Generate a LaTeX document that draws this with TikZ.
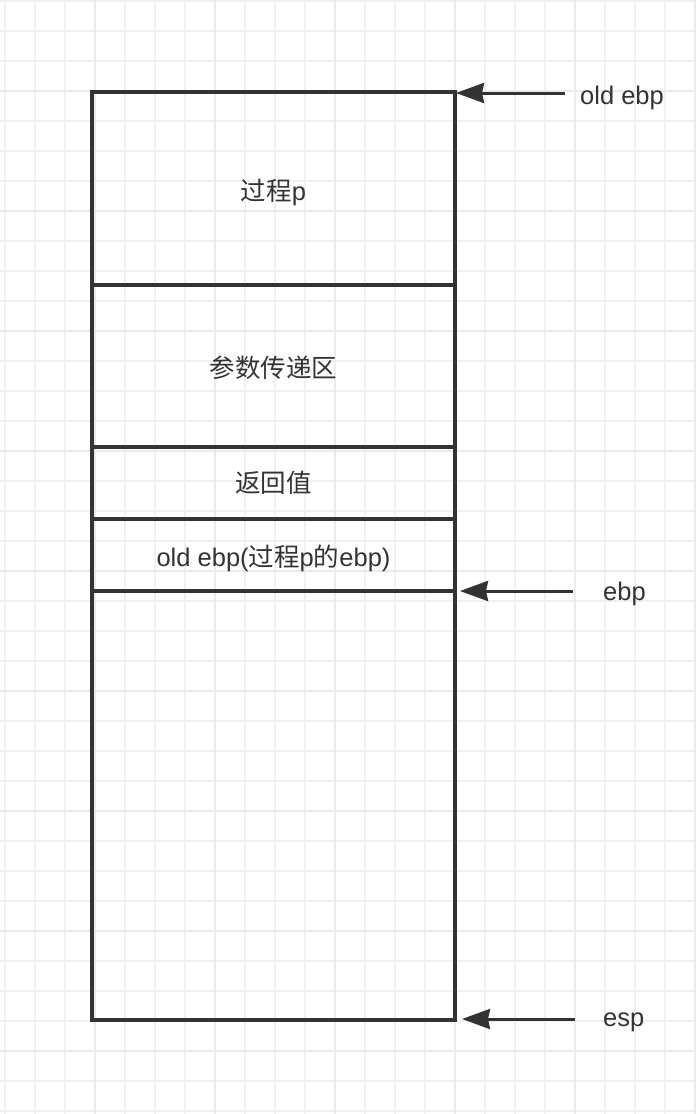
\documentclass[tikz,border=0pt]{standalone}
\usepackage{fontspec}
\setmainfont{Liberation Sans}
\newfontfamily\cjk{Noto Sans CJK SC}
\usetikzlibrary{arrows.meta}
\definecolor{gridminor}{HTML}{F0F0F0}
\definecolor{gridmajor}{HTML}{EBEBEB}
\definecolor{ink}{HTML}{333333}

\begin{document}
\begin{tikzpicture}[x=1pt, y=-1pt]
    \tikzset{MinorGrid/.style={draw=gridminor, line width=1.4pt}}
    \tikzset{MajorGrid/.style={draw=gridmajor, line width=1.8pt}}
    \tikzset{FrameStyle/.style={draw=ink, line width=3.2pt}}
    \tikzset{LabelStyle/.style={text=ink, inner sep=0pt, font=\fontsize{25.5}{30}\selectfont}}
    \tikzset{PointerStyle/.style={draw=ink, line width=3pt, -{Stealth[length=28pt, width=20pt, inset=2pt]}}}

    \useasboundingbox[fill=white] (0,0) rectangle (696,1114);

    % grid paper
    \foreach \k in {0,...,23} \draw[MinorGrid] (5+30*\k,0) -- (5+30*\k,1114);
    \foreach \k in {0,...,37} \draw[MinorGrid] (0,1+30*\k) -- (696,1+30*\k);
    \foreach \k in {3,7,...,23} \draw[MajorGrid] (5+30*\k,0) -- (5+30*\k,1114);
    \foreach \k in {3,7,...,35} \draw[MajorGrid] (0,1+30*\k) -- (696,1+30*\k);

    % stack frame
    \coordinate (TL) at (92,92);
    \coordinate (BR) at (455,1020);
    \coordinate (D1L) at (92,285);  \coordinate (D1R) at (455,285);
    \coordinate (D2L) at (92,447);  \coordinate (D2R) at (455,447);
    \coordinate (D3L) at (92,519);  \coordinate (D3R) at (455,519);
    \coordinate (D4L) at (92,591);  \coordinate (D4R) at (455,591);

    \draw[FrameStyle] (TL) rectangle (BR);
    \draw[FrameStyle] (D1L) -- (D1R);
    \draw[FrameStyle] (D2L) -- (D2R);
    \draw[FrameStyle] (D3L) -- (D3R);
    \draw[FrameStyle] (D4L) -- (D4R);

    \node[LabelStyle, anchor=base] (procp) at (273.5,200) {{\cjk 过程}p};
    \node[LabelStyle, anchor=base] (args) at (273.5,377) {\cjk 参数传递区};
    \node[LabelStyle, anchor=base] (retval) at (273.5,492) {\cjk 返回值};
    \node[LabelStyle, anchor=base] (saved) at (273.5,566) {old ebp({\cjk 过程}p{\cjk 的}ebp)};

    % pointers
    \node[LabelStyle, anchor=base west] (oldebp) at (580,104) {old ebp};
    \node[LabelStyle, anchor=base west] (ebp) at (603,600) {ebp};
    \node[LabelStyle, anchor=base west] (esp) at (603,1026) {esp};

    \coordinate (oldebptail) at (565,93);   \coordinate (oldebptip) at (456,93);
    \coordinate (ebptail) at (573,591);     \coordinate (ebptip) at (460,591);
    \coordinate (esptail) at (575,1019);    \coordinate (esptip) at (462,1019);

    \draw[PointerStyle] (oldebptail) -- (oldebptip);
    \draw[PointerStyle] (ebptail) -- (ebptip);
    \draw[PointerStyle] (esptail) -- (esptip);
\end{tikzpicture}
\end{document}
